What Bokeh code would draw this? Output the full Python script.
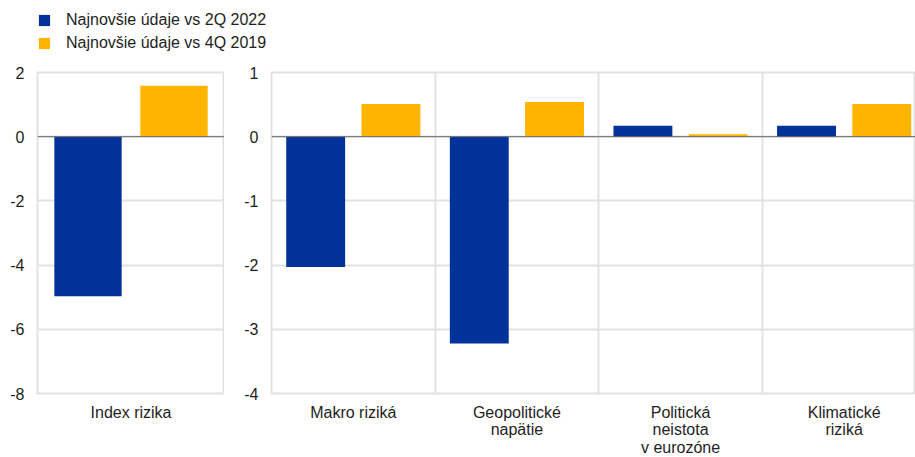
from bokeh.plotting import figure
from bokeh.models import (ColumnDataSource, FixedTicker, Span, Legend, LegendItem, Label)
from bokeh.layouts import column, row
from bokeh.embed import file_html
from bokeh.resources import INLINE

# ---- data ----
left_categories = ["Index rizika"]
left_vs_2q2022 = [-4.97]
left_vs_4q2019 = [1.59]

right_categories = ["Makro riziká", "Geopolitické\nnapätie", "Politická\nneistota\nv eurozóne", "Klimatické\nriziká"]
right_vs_2q2022 = [-2.03, -3.22, 0.17, 0.17]
right_vs_4q2019 = [0.51, 0.54, 0.04, 0.51]

series_labels = ["Najnovšie údaje vs 2Q 2022", "Najnovšie údaje vs 4Q 2019"]
left_yticks = [-8, -6, -4, -2, 0, 2]
right_yticks = [-4, -3, -2, -1, 0, 1]

BLUE = "#003299"
ORANGE = "#FFB400"
FONT = "Liberation Sans"
TXT = "#1e1e1e"
GRID = "#e2e2e2"
BAR_W = 0.36
OFF = 0.23


def no_border(**kw):
    return dict(min_border=0, min_border_left=0, min_border_right=0,
                min_border_top=0, min_border_bottom=0, **kw)


def style(p, yticks, cats):
    p.outline_line_color = GRID
    p.outline_line_width = 2
    p.xaxis.visible = False
    p.yaxis.ticker = FixedTicker(ticks=yticks)
    p.yaxis.major_label_overrides = {t: str(t) for t in yticks}
    ax = p.yaxis[0]
    ax.axis_line_color = None
    ax.major_tick_line_color = None
    ax.minor_tick_line_color = None
    ax.major_tick_out = 0
    ax.major_tick_in = 0
    ax.major_label_text_font = FONT
    ax.major_label_text_font_size = "16px"
    ax.major_label_text_color = TXT
    ax.major_label_standoff = 13
    p.ygrid.grid_line_color = GRID
    p.ygrid.grid_line_width = 2
    p.ygrid.ticker = FixedTicker(ticks=yticks)
    p.xgrid.grid_line_color = GRID
    p.xgrid.grid_line_width = 2
    p.xgrid.ticker = FixedTicker(ticks=list(range(1, len(cats))))
    p.add_layout(Span(location=0, dimension="width", line_color="#666666", line_width=1))


def bars(p, cats, v1, v2):
    idx = [i + 0.5 for i in range(len(cats))]
    src = ColumnDataSource(dict(x1=[x - OFF for x in idx], x2=[x + OFF for x in idx], v1=v1, v2=v2))
    p.vbar(x="x1", top="v1", bottom=0, width=BAR_W, source=src, fill_color=BLUE, line_color=None)
    p.vbar(x="x2", top="v2", bottom=0, width=BAR_W, source=src, fill_color=ORANGE, line_color=None)


STRIP_H = 54


def label_strip(width, left, x_range, cats):
    s = figure(width=width, height=STRIP_H, x_range=x_range, y_range=(0, 1),
               output_backend="svg", toolbar_location=None,
               **no_border())
    s.min_border_left = left
    s.axis.visible = False
    s.grid.visible = False
    s.outline_line_color = None
    for i, c in enumerate(cats):
        s.add_layout(Label(x=i + 0.5, y=1, text=c,
                           text_align="center", text_baseline="top",
                           text_font=FONT, text_font_size="16px", text_color=TXT,
                           text_line_height=1.05))
    return s


MAIN_H = 15 + 321 + 10
p_left = figure(width=224, height=MAIN_H, x_range=(0, 1), y_range=(left_yticks[0], left_yticks[-1]),
                output_backend="svg", toolbar_location=None,
                min_border_left=37, min_border_right=0, min_border_top=15, min_border_bottom=10)
bars(p_left, left_categories, left_vs_2q2022, left_vs_4q2019)
style(p_left, left_yticks, left_categories)

p_right = figure(width=691, height=MAIN_H, x_range=(0, 3.936), y_range=(right_yticks[0], right_yticks[-1]),
                 output_backend="svg", toolbar_location=None,
                 min_border_left=47, min_border_right=0, min_border_top=15, min_border_bottom=10)
bars(p_right, right_categories, right_vs_2q2022, right_vs_4q2019)
style(p_right, right_yticks, right_categories)

s_left = label_strip(224, 37, p_left.x_range, left_categories)
s_right = label_strip(691, 47, p_right.x_range, right_categories)

# ---- legend ----
p_leg = figure(width=915, height=57, x_range=(0, 1), y_range=(0, 1),
               output_backend="svg", toolbar_location=None, **no_border())
p_leg.axis.visible = False
p_leg.grid.visible = False
p_leg.outline_line_color = None
# swatch-only renderers, lying outside the visible range (used only by the legend)
leg_src = ColumnDataSource(dict(x=[0.5], top=[-2], bottom=[-3]))
r1 = p_leg.vbar(x="x", top="top", bottom="bottom", width=0.1, source=leg_src, fill_color=BLUE, line_color=None)
r2 = p_leg.vbar(x="x", top="top", bottom="bottom", width=0.1, source=leg_src, fill_color=ORANGE, line_color=None)
legend = Legend(items=[LegendItem(label=series_labels[0], renderers=[r1]),
                       LegendItem(label=series_labels[1], renderers=[r2])],
                location=(37, 4), orientation="vertical",
                glyph_width=14, glyph_height=14, label_height=20, spacing=3,
                label_standoff=15, padding=0, margin=0,
                border_line_color=None, background_fill_alpha=0,
                label_text_font=FONT, label_text_font_size="16px", label_text_color=TXT)
p_leg.add_layout(legend)

layout = column(p_leg,
                row(p_left, p_right, spacing=0),
                row(s_left, s_right, spacing=0),
                spacing=0)

open("out.html", "w").write(file_html(layout, INLINE))
